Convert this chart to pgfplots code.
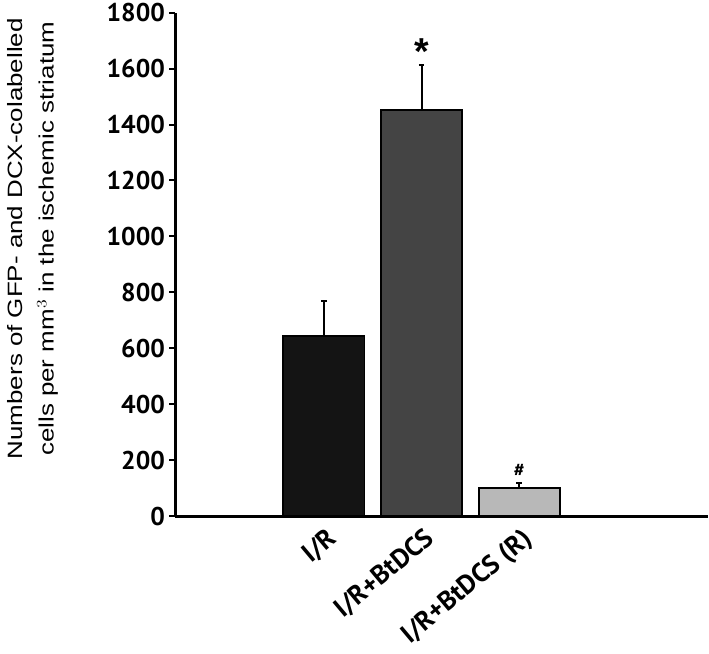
\documentclass[border=0pt]{standalone}
\usepackage{pgfplots}
\pgfplotsset{compat=1.18}
\usepackage{fontspec}
\setmainfont{Liberation Sans}
\newfontfamily\tickfont{PT Sans}

\definecolor{barA}{HTML}{141414}
\definecolor{barB}{HTML}{444444}
\definecolor{barC}{HTML}{B8B8B8}

\begin{document}
\begin{tikzpicture}
\begin{axis}[
    scale only axis,
    width=537bp, height=508bp,
    xmin=-0.523, xmax=4.93,
    ymin=0, ymax=1800,
    ytick={0,200,...,1800},
    xtick={1,2,3},
    xticklabels={I/R, I/R+BtDCS, I/R+BtDCS (R)},
    axis x line*=bottom,
    axis y line*=left,
    axis line style={line width=2.8bp, -},
    ytick style={line width=2bp, black},
    major tick length=6bp,
    tick align=outside,
    x tick style={draw=none},
    /pgf/number format/1000 sep={},
    /pgf/number format/assume math mode=true,
    yticklabel style={font=\tickfont\bfseries\fontsize{26}{29}\selectfont, xshift=-1bp},
    xticklabel style={font=\tickfont\bfseries\fontsize{27}{30}\selectfont,
        rotate=40, anchor=north east, xshift=2bp, yshift=-1bp},
    bar width=0.83,
    ybar, bar shift=0pt,
    clip=false,
    error bars/y dir=plus,
    error bars/y explicit,
    error bars/error bar style={line width=2bp, black},
    error bars/error mark options={line width=2bp, black, mark size=2.8bp, rotate=90},
]
\addplot[fill=barA, draw=black, line width=2bp] coordinates {(1,645) +- (0,125)};
\addplot[fill=barB, draw=black, line width=2bp] coordinates {(2,1453) +- (0,160)};
\addplot[fill=barC, draw=black, line width=2bp] coordinates {(3,101) +- (0,17)};
\node[font=\bfseries\fontsize{38}{38}\selectfont] at (axis cs:2,1660) {*};
\node[font=\tickfont\bfseries\fontsize{19}{19}\selectfont] at (axis cs:3,163) {\#};
% axis title, drawn a little stretched along its length as in the original
\node[rotate=90, inner sep=0pt, font=\fontsize{21}{32}\selectfont]
    at (axis description cs:-0.27,0.551)
    {\scalebox{1.25}[1]{\begin{tabular}{@{}c@{}}Numbers of GFP- and DCX-colabelled\\
     cells per mm$^3$ in the ischemic striatum\end{tabular}}};
\end{axis}
\end{tikzpicture}
\end{document}
